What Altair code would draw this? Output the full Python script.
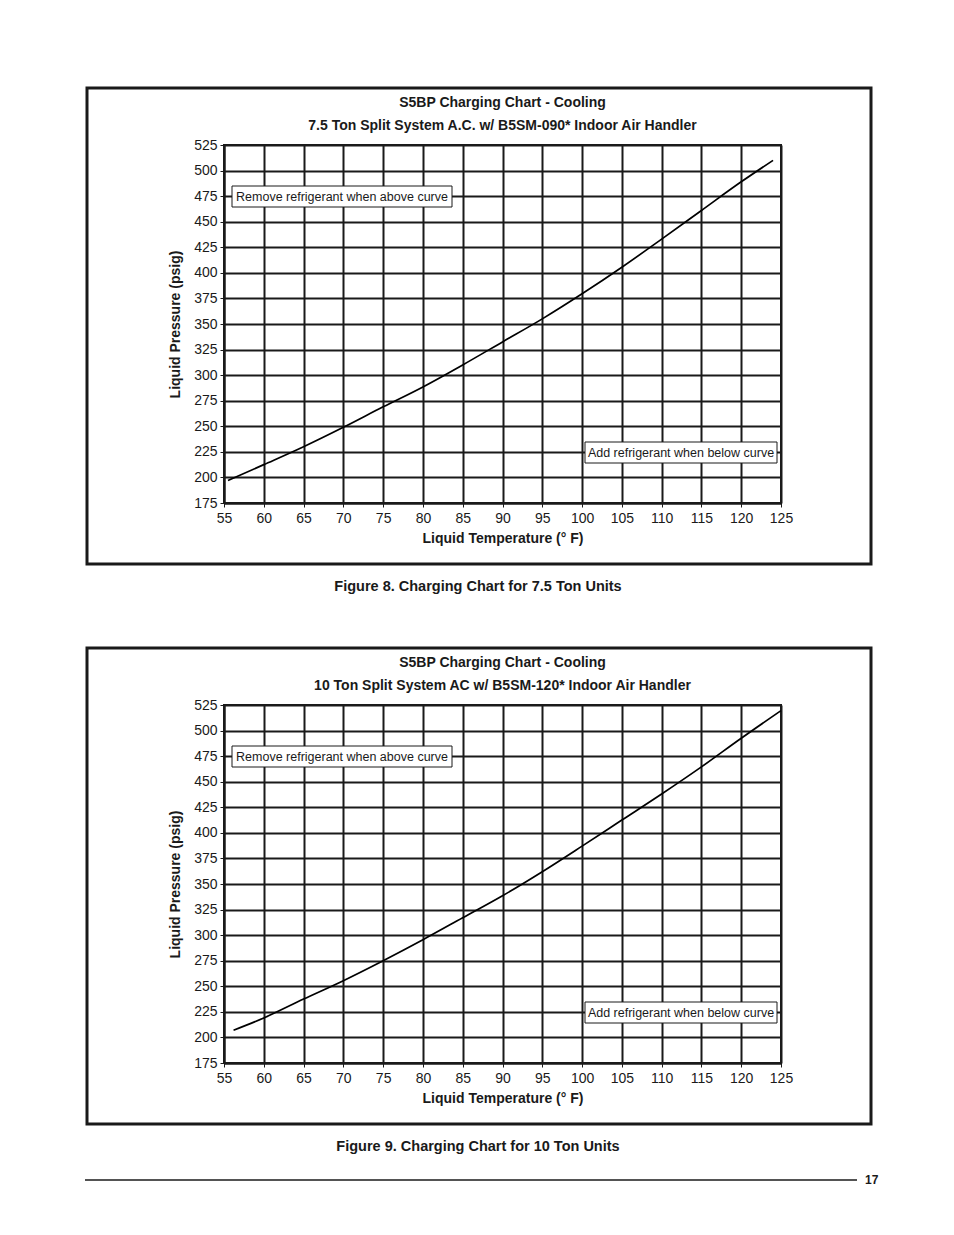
import altair as alt
import pandas as pd

# ---- data ----
temp_75 = [55.5, 60, 65, 70, 75, 80, 85, 90, 95, 100, 105, 110, 115, 120, 124]
psig_75 = [197, 212.5, 230, 249, 269, 288.5, 310, 332.5, 355, 379.5, 405.5, 433, 461, 489, 510]

temp_10 = [56.2, 60, 65, 70, 75, 80, 85, 90, 95, 100, 105, 110, 115, 120, 125]
psig_10 = [207, 219, 237.5, 255.5, 275, 295.5, 317, 338.5, 362, 387, 412.5, 438, 464.5, 492.5, 519.5]

x_ticks = list(range(55, 126, 5))
y_ticks = list(range(175, 526, 25))

title_main = "S5BP Charging Chart - Cooling"
subtitle_75 = "7.5 Ton Split System A.C. w/ B5SM-090* Indoor Air Handler"
subtitle_10 = "10 Ton Split System AC w/ B5SM-120* Indoor Air Handler"
caption_75 = "Figure 8. Charging Chart for 7.5 Ton Units"
caption_10 = "Figure 9. Charging Chart for 10 Ton Units"
note_above = "Remove refrigerant when above curve"
note_below = "Add refrigerant when below curve"
page_number = "17"

W, H = 557, 358
FONT = "Liberation Sans"
INK = "#1a1a1a"
one = pd.DataFrame({"k": [0]})


def text_layer(txt, x, y, size, weight="normal", align="center"):
    return alt.Chart(one).mark_text(
        text=txt, font=FONT, fontSize=size, fontWeight=weight, color=INK,
        align=align, baseline="middle"
    ).encode(x=alt.value(x), y=alt.value(y))


def box_layer(x, x2, y, y2, sw=1, fill="white"):
    return alt.Chart(one).mark_rect(
        fill=fill, stroke=INK, strokeWidth=sw
    ).encode(x=alt.value(x), x2=alt.value(x2), y=alt.value(y), y2=alt.value(y2))


def panel(temps, psigs, subtitle, caption, last=False):
    df = pd.DataFrame({"t": temps, "p": psigs})
    outer = alt.Chart(one).mark_rect(
        fill="transparent", stroke=INK, strokeWidth=3
    ).encode(x=alt.value(-137), x2=alt.value(647), y=alt.value(-57), y2=alt.value(419))

    line = alt.Chart(df).mark_line(
        color="black", strokeWidth=1.7, interpolate="monotone"
    ).encode(
        x=alt.X("t:Q", scale=alt.Scale(domain=[55, 125], nice=False, zero=False),
                axis=alt.Axis(values=x_ticks, title="Liquid Temperature (° F)",
                              labelOverlap=False, labelFlush=False)),
        y=alt.Y("p:Q", scale=alt.Scale(domain=[175, 525], nice=False, zero=False),
                axis=alt.Axis(values=y_ticks, title="Liquid Pressure (psig)",
                              labelOverlap=False, labelFlush=False)),
    )

    layers = [
        outer,
        line,
        text_layer(title_main, W / 2, -42, 14, "bold"),
        text_layer(subtitle, W / 2, -19, 14, "bold"),
        box_layer(8, 228, 41, 62),
        text_layer(note_above, 118, 51.5, 12.5),
        box_layer(361, 553, 297, 318),
        text_layer(note_below, 457, 307.5, 12.5),
        text_layer(caption, 254, 442, 14.5, "bold"),
    ]
    if last:
        layers.append(
            alt.Chart(one).mark_rule(color=INK, strokeWidth=1.3).encode(
                x=alt.value(-139), x2=alt.value(633), y=alt.value(475))
        )
        layers.append(text_layer(page_number, 641, 475, 12, "bold", align="left"))
    return alt.layer(*layers).properties(width=W, height=H)


chart = alt.vconcat(
    panel(temp_75, psig_75, subtitle_75, caption_75),
    panel(temp_10, psig_10, subtitle_10, caption_10, last=True),
    spacing=50,
).properties(
    padding={"left": 75, "top": 77, "right": 5, "bottom": 5},
    background="white",
).configure_view(
    stroke=INK, strokeWidth=2
).configure_axis(
    grid=True, gridColor=INK, gridWidth=2, gridOpacity=1,
    domainColor=INK, domainWidth=2,
    tickColor=INK, tickSize=4, tickWidth=1,
    labelFont=FONT, labelFontSize=14, labelColor=INK,
    titleFont=FONT, titleFontSize=14, titleFontWeight="bold", titleColor=INK,
).configure_axisY(
    labelPadding=3, titlePadding=11
).configure_axisX(
    labelPadding=4, titlePadding=6
)

chart.save("out.html", embed_options={"renderer": "svg", "actions": False})
